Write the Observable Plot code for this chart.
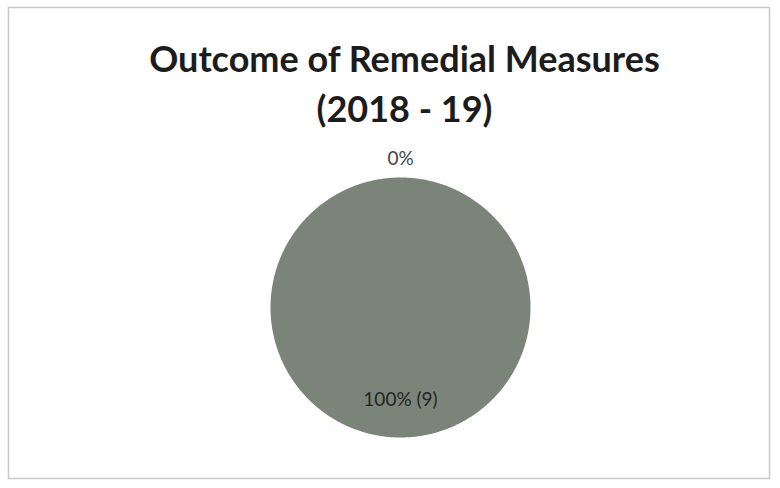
<!DOCTYPE html>
<html>
<head>
<meta charset="utf-8">
<script src="https://cdn.jsdelivr.net/npm/d3@7"></script>
<script src="https://cdn.jsdelivr.net/npm/@observablehq/plot@0.6"></script>
<style>
  html, body { margin: 0; padding: 0; background: #fff; }
  #chart svg { display: block; }
</style>
</head>
<body>
<div id="chart"></div>
<script>
// ---- data ----
const titleLines = ["Outcome of Remedial Measures", "(2018 - 19)"];
const categories = ["Not Improved", "Improved"];
const values = [0, 9];
const sliceLabels = ["0%", "100% (9)"];
const sliceColors = ["#5b6a8c", "#7b8478"];
const labelColors = ["#444444", "#262626"];

// ---- derived geometry via d3.pie ----
const pie = d3.pie().sort(null).startAngle(0).endAngle(2 * Math.PI);
const arcs = pie(values);

const polyPoints = [];
arcs.forEach((a, i) => {
  if (a.endAngle - a.startAngle <= 0) return;
  const n = Math.max(2, Math.ceil((a.endAngle - a.startAngle) / 0.01));
  polyPoints.push({slice: categories[i], x: 0, y: 0});
  for (let k = 0; k <= n; k++) {
    const t = a.startAngle + (a.endAngle - a.startAngle) * k / n;
    polyPoints.push({slice: categories[i], x: Math.sin(t), y: Math.cos(t)});
  }
});

const labelData = arcs.map((a, i) => {
  const mid = (a.startAngle + a.endAngle) / 2;
  const rr = values[i] === 0 ? 1.14 : 0.71;
  return {label: sliceLabels[i], color: labelColors[i], x: rr * Math.sin(mid), y: rr * Math.cos(mid)};
});

const colorOf = Object.fromEntries(categories.map((c, i) => [c, sliceColors[i]]));

const chart = Plot.plot({
  width: 780,
  height: 488,
  marginLeft: 8,
  marginTop: 7,
  marginRight: 11,
  marginBottom: 10,
  style: {background: "#fff", fontFamily: "Lato, sans-serif"},
  x: {domain: [-1, 1], range: [270, 530], axis: null},
  y: {domain: [-1, 1], range: [437, 177], axis: null},
  marks: [
    Plot.frame({stroke: "#c8c8c8", strokeWidth: 1.5}),
    ...categories.map(c => Plot.line(polyPoints.filter(p => p.slice === c), {
      x: "x", y: "y", curve: "linear-closed", fill: colorOf[c], stroke: "none"
    })),
    Plot.text([titleLines[0]], {x: () => 0, frameAnchor: "top", lineAnchor: "top", dx: 4, dy: 39.4,
      fontSize: 36, fontWeight: "bold", fill: "#1c1c1c", text: d => d}),
    Plot.text([titleLines[1]], {x: () => 0, frameAnchor: "top", lineAnchor: "top", dx: 4, dy: 89.4,
      fontSize: 36, fontWeight: "bold", fill: "#1c1c1c", text: d => d}),
    Plot.text(labelData, {x: "x", y: "y", text: "label", fontSize: 19, fill: d => d.color})
  ]
});
document.getElementById("chart").appendChild(chart);
</script>
</body>
</html>
